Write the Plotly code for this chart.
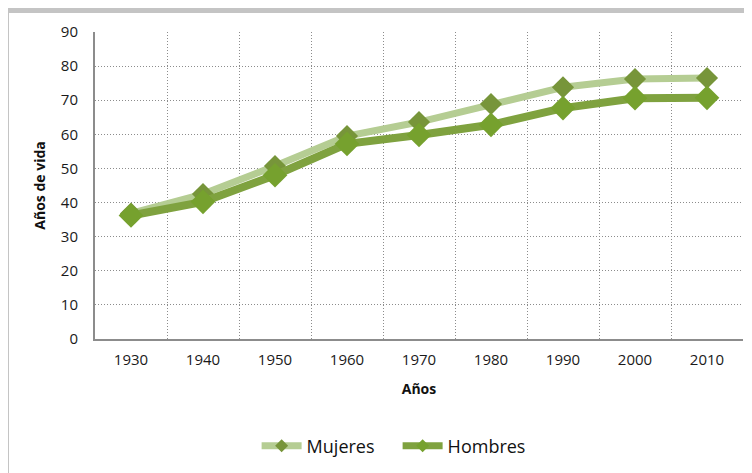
import plotly.graph_objects as go

years = ["1930", "1940", "1950", "1960", "1970", "1980", "1990", "2000", "2010"]
mujeres = [36.8, 42.5, 50.7, 59.5, 63.6, 68.9, 73.8, 76.2, 76.5]
hombres = [36.2, 40.2, 48.0, 57.2, 59.8, 62.8, 67.7, 70.6, 70.7]

FONT = "Open Sans, DejaVu Sans, sans-serif"
c_muj_line, c_muj_mark = "#b5cd93", "#77953a"
c_hom_line, c_hom_mark = "#7fa23f", "#76a12e"

fig = go.Figure()
fig.add_trace(go.Scatter(
    x=years, y=mujeres, name="Mujeres", mode="lines+markers", showlegend=False,
    line=dict(color=c_muj_line, width=7),
    marker=dict(symbol="diamond", size=17, color=c_muj_mark),
))
fig.add_trace(go.Scatter(
    x=years, y=hombres, name="Hombres", mode="lines+markers", showlegend=False,
    line=dict(color=c_hom_line, width=8),
    marker=dict(symbol="diamond", size=19, color=c_hom_mark),
))
# legend entries
fig.add_trace(go.Scatter(
    x=[None], y=[None], name="Mujeres", mode="lines+markers",
    line=dict(color=c_muj_line, width=7),
    marker=dict(symbol="diamond", size=10, color=c_muj_mark),
))
fig.add_trace(go.Scatter(
    x=[None], y=[None], name="Hombres", mode="lines+markers",
    line=dict(color=c_hom_line, width=7),
    marker=dict(symbol="diamond", size=10, color=c_hom_mark),
))

font_tick = dict(family=FONT, size=15, color="#1a1a1a")
PW, PH = 648, 307

fig.update_layout(
    width=744, height=465,
    margin=dict(l=87, r=9, t=24, b=134),
    paper_bgcolor="white", plot_bgcolor="white",
    showlegend=True,
    legend=dict(orientation="h", x=0.467, xanchor="center", y=-0.349, yanchor="middle",
                font=dict(family=FONT, size=18, color="#111"),
                itemwidth=40, entrywidth=86, traceorder="normal"),
    xaxis=dict(
        type="category", tickson="boundaries", showgrid=True, automargin=False,
        gridcolor="#8c8c8c", griddash="1px,2px", gridwidth=1,
        showline=True, linecolor="#8c8c8c", linewidth=2,
        ticks="", tickfont=font_tick, range=[-0.5, 8.5], ticklabelstandoff=6,
        title=dict(text="<b>Años</b>", font=dict(family=FONT, size=14, color="#111"), standoff=16),
    ),
    yaxis=dict(
        range=[0, 90], dtick=10, showgrid=True, automargin=False,
        gridcolor="#8c8c8c", griddash="1px,2px", gridwidth=1,
        showline=True, linecolor="#8c8c8c", linewidth=2,
        ticks="", tickfont=font_tick, zeroline=False, ticklabelstandoff=12,
        title=dict(text="<b>Años de vida</b>", font=dict(family=FONT, size=14, color="#111"), standoff=12),
    ),
    shapes=[
        dict(type="rect", xref="paper", yref="paper", x0=-87/PW, x1=1 + 9/PW, y0=1 + 19/PH, y1=1 + 24/PH,
             fillcolor="#c4c4c4", line=dict(width=0), layer="below"),
        dict(type="rect", xref="paper", yref="paper", x0=-87/PW, x1=-86/PW, y0=-134/PH, y1=1 + 24/PH,
             fillcolor="#c4c4c4", line=dict(width=0), layer="below"),
    ],
)

fig.write_html("out.html")
